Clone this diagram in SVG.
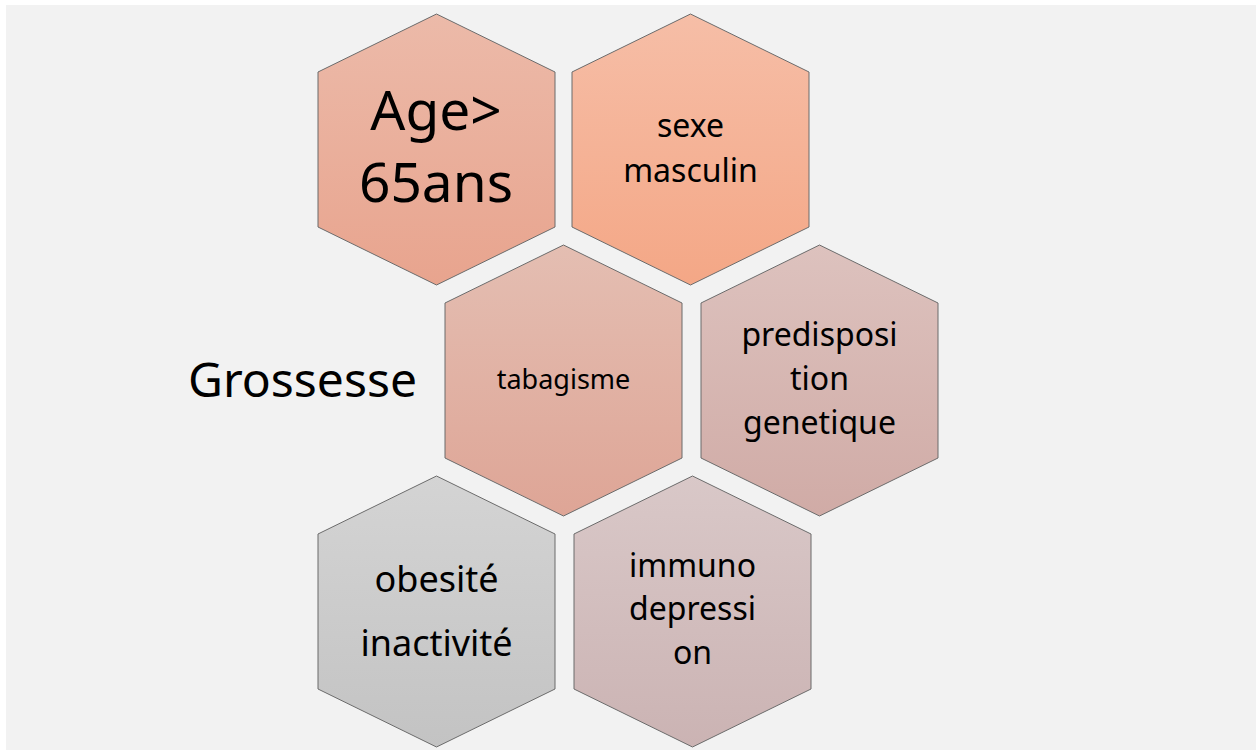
<svg xmlns="http://www.w3.org/2000/svg" xmlns:xlink="http://www.w3.org/1999/xlink" width="1256" height="753" viewBox="0 0 1256 753">
<style>
  .hex { stroke: #6b6b6b; stroke-width: 1; }
  text { font-family: "Noto Sans", "DejaVu Sans", sans-serif; fill: #000; text-anchor: middle; }
  .big { font-size: 55px; }
  .mid { font-size: 32px; }
  .ob { font-size: 36px; }
  .tab { font-size: 27px; }
  .gro { font-size: 48px; text-anchor: start; }
</style>
<defs>
  <polygon id="hexshape" points="118.5,0 237,58 237,213 118.5,271 0,213 0,58"/>
  <linearGradient id="gAge" x1="0" y1="0" x2="0" y2="1"><stop offset="0" stop-color="#ecbaa9"/><stop offset="1" stop-color="#e8a48e"/></linearGradient>
  <linearGradient id="gSexe" x1="0" y1="0" x2="0" y2="1"><stop offset="0" stop-color="#f6bea7"/><stop offset="1" stop-color="#f4a786"/></linearGradient>
  <linearGradient id="gTab" x1="0" y1="0" x2="0" y2="1"><stop offset="0" stop-color="#e4beb2"/><stop offset="1" stop-color="#dea596"/></linearGradient>
  <linearGradient id="gPre" x1="0" y1="0" x2="0" y2="1"><stop offset="0" stop-color="#ddc2be"/><stop offset="1" stop-color="#d0aba6"/></linearGradient>
  <linearGradient id="gOb" x1="0" y1="0" x2="0" y2="1"><stop offset="0" stop-color="#d4d4d4"/><stop offset="1" stop-color="#c3c3c3"/></linearGradient>
  <linearGradient id="gImm" x1="0" y1="0" x2="0" y2="1"><stop offset="0" stop-color="#d9c8c8"/><stop offset="1" stop-color="#cbb3b3"/></linearGradient>
</defs>
<rect x="0" y="0" width="1256" height="753" fill="#ffffff"/>
<rect x="6" y="5" width="1250" height="745" fill="#f2f2f2"/>
<g id="connectors"/>
<g id="node-age">
  <use href="#hexshape" xlink:href="#hexshape" class="hex" x="318" y="14" fill="url(#gAge)"/>
  <text class="big" x="436" y="130">Age&gt;</text>
  <text class="big" x="436" y="202">65ans</text>
</g>
<g id="node-sexe">
  <use href="#hexshape" xlink:href="#hexshape" class="hex" x="572" y="14" fill="url(#gSexe)"/>
  <text class="mid" x="690.5" y="137">sexe</text>
  <text class="mid" x="690.5" y="182">masculin</text>
</g>
<g id="node-tabagisme">
  <use href="#hexshape" xlink:href="#hexshape" class="hex" x="445" y="245" fill="url(#gTab)"/>
  <text class="tab" x="563.5" y="389">tabagisme</text>
</g>
<g id="node-predisposition">
  <use href="#hexshape" xlink:href="#hexshape" class="hex" x="701" y="245" fill="url(#gPre)"/>
  <text class="mid" x="819.5" y="346">predisposi</text>
  <text class="mid" x="819.5" y="390">tion</text>
  <text class="mid" x="819.5" y="434">genetique</text>
</g>
<g id="node-obesite">
  <use href="#hexshape" xlink:href="#hexshape" class="hex" x="318" y="476" fill="url(#gOb)"/>
  <text class="ob" x="436.5" y="592">obesité</text>
  <text class="ob" x="436.5" y="656">inactivité</text>
</g>
<g id="node-immuno">
  <use href="#hexshape" xlink:href="#hexshape" class="hex" x="574" y="476" fill="url(#gImm)"/>
  <text class="mid" x="692.5" y="577">immuno</text>
  <text class="mid" x="692.5" y="620">depressi</text>
  <text class="mid" x="692.5" y="664">on</text>
</g>
<g id="node-grossesse">
  <text class="gro" x="188" y="397">Grossesse</text>
</g>
</svg>
